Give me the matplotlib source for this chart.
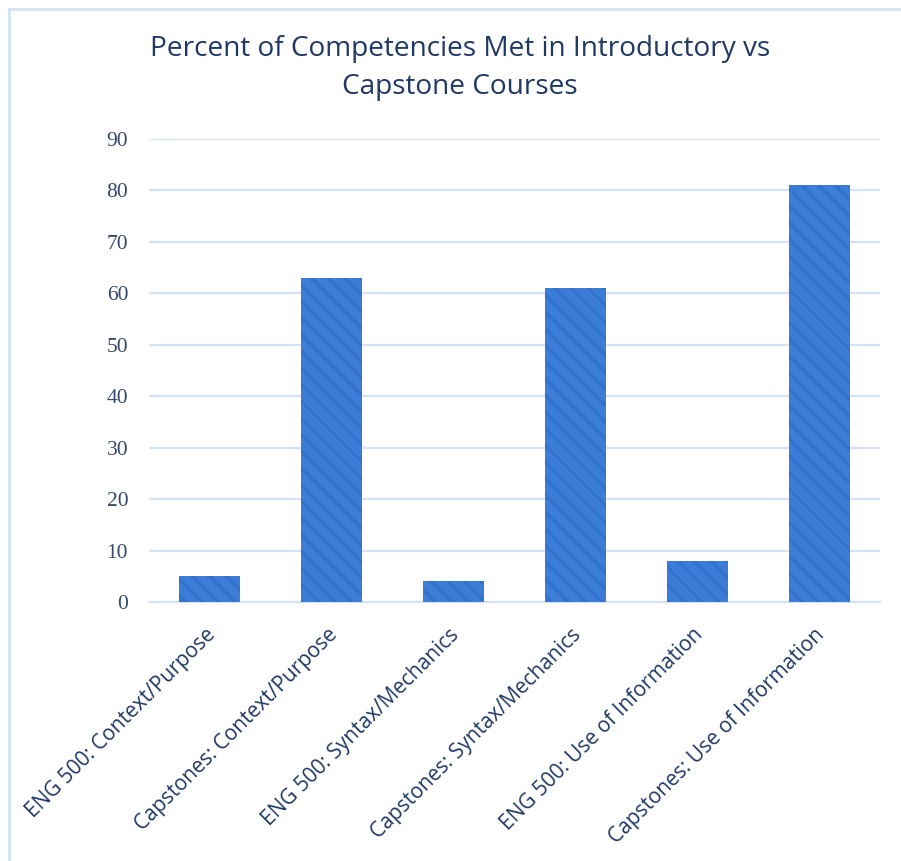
import matplotlib
matplotlib.use("Agg")
import matplotlib.pyplot as plt
from matplotlib.lines import Line2D
from matplotlib.transforms import ScaledTranslation

categories = [
    "ENG 500: Context/Purpose",
    "Capstones: Context/Purpose",
    "ENG 500: Syntax/Mechanics",
    "Capstones: Syntax/Mechanics",
    "ENG 500: Use of Information",
    "Capstones: Use of Information",
]
percent_met = [5, 63, 4, 61, 8, 81]
y_ticks = [0, 10, 20, 30, 40, 50, 60, 70, 80, 90]

NAVY = "#1F3864"
TICK = "#34496C"
GRID = "#D3E3F5"
BAR = "#3C7DD7"
STRIPE = "#3373CE"

plt.rcParams["hatch.linewidth"] = 2.5
plt.rcParams["hatch.color"] = STRIPE

W, H = 901, 861
fig = plt.figure(figsize=(W / 100, H / 100), dpi=100)
fig.patch.set_facecolor("white")
ax = fig.add_axes([149 / W, 1 - 602 / H, (880 - 149) / W, (602 - 139) / H])

x = range(len(categories))
ax.bar(x, percent_met, width=0.5, color=BAR, edgecolor=STRIPE,
       linewidth=0, hatch="\\\\", zorder=3)

ax.set_xlim(-0.5, len(categories) - 0.5)
ax.set_ylim(0, 90)
ax.set_yticks(y_ticks)
ax.set_yticklabels([str(v) for v in y_ticks], family="Liberation Serif",
                   fontsize=15.5, color=TICK)
ax.set_xticks(list(x))
ax.set_xticklabels(categories, rotation=45, ha="right", va="top",
                   rotation_mode="anchor", family="Open Sans",
                   fontsize=15, color=NAVY)
ax.tick_params(axis="both", length=0)
ax.tick_params(axis="y", pad=15)
ax.tick_params(axis="x", pad=16)

# nudge the slanted category labels a little to the left
shift = ScaledTranslation(-5 / 100, 0, fig.dpi_scale_trans)
for lbl in ax.get_xticklabels():
    lbl.set_transform(lbl.get_transform() + shift)

ax.grid(axis="y", color=GRID, linewidth=1.6, zorder=0)
for side in ("top", "right", "left"):
    ax.spines[side].set_visible(False)
ax.spines["bottom"].set_color(GRID)
ax.spines["bottom"].set_linewidth(1.6)

fig.text(460 / W, 1 - 68 / H,
         "Percent of Competencies Met in Introductory vs\nCapstone Courses",
         ha="center", va="center", family="Open Sans", fontsize=20.2,
         color=NAVY, linespacing=1.45)

# light frame along the top and left edge
fig.add_artist(Line2D([8.5 / W, 8.5 / W], [0, 1 - 8.5 / H],
                      transform=fig.transFigure, color=GRID, linewidth=2))
fig.add_artist(Line2D([8.5 / W, 1], [1 - 8.5 / H, 1 - 8.5 / H],
                      transform=fig.transFigure, color=GRID, linewidth=2))

fig.savefig("out.png", dpi=100)
